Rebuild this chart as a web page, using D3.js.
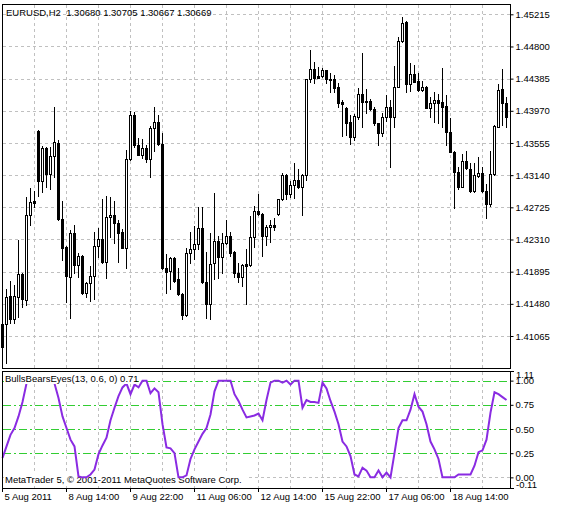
<!DOCTYPE html>
<html><head><meta charset="utf-8">
<script src="https://cdn.jsdelivr.net/npm/d3@7"></script>
<style>html,body{margin:0;padding:0;background:#fff;} svg{display:block;} text{font-family:"Liberation Sans",Arial,sans-serif;font-size:9.5px;fill:#000;white-space:pre;}</style>
</head><body><svg id="c" width="563" height="509"></svg>
<script>
const title = "EURUSD,H2  1.30680 1.30705 1.30667 1.30669";
const indName = "BullsBearsEyes(13, 0.6, 0) 0.71";
const copyright = "MetaTrader 5, \u00A9 2001-2011 MetaQuotes Software Corp.";
const opens = [1.41220,1.41216,1.41577,1.41280,1.41572,1.41861,1.41529,1.42622,1.42806,1.43709,1.43068,1.43490,1.43158,1.43383,1.43554,1.42570,1.42209,1.41830,1.42393,1.41984,1.42097,1.41623,1.41744,1.41835,1.42226,1.42316,1.42023,1.42596,1.42626,1.42518,1.42406,1.42204,1.43344,1.43912,1.43532,1.43403,1.43486,1.43352,1.43744,1.43825,1.43541,1.41938,1.41907,1.42067,1.41796,1.41606,1.41332,1.42131,1.42183,1.42248,1.42454,1.41765,1.41474,1.42002,1.42290,1.42088,1.42260,1.42355,1.42152,1.41873,1.41830,1.41990,1.41981,1.42338,1.42677,1.42638,1.42359,1.42467,1.42493,1.42638,1.42828,1.43142,1.42893,1.43009,1.43077,1.42991,1.43142,1.44380,1.44505,1.44419,1.44419,1.44496,1.44380,1.44380,1.44273,1.44087,1.44002,1.43821,1.43636,1.43894,1.44183,1.44096,1.44096,1.43989,1.43808,1.43679,1.43886,1.44023,1.43886,1.44281,1.44874,1.45115,1.44312,1.44441,1.44358,1.44238,1.44281,1.44010,1.44066,1.44109,1.44079,1.44032,1.43700,1.43442,1.43184,1.42991,1.43326,1.43215,1.42939,1.43133,1.43163,1.42939,1.42764,1.43151,1.43765,1.44247,1.44066];
const highs = [1.41258,1.41667,1.41778,1.41723,1.42303,1.41877,1.42854,1.42974,1.42935,1.43722,1.43516,1.43499,1.43503,1.44019,1.43593,1.42806,1.42226,1.42432,1.42493,1.42139,1.42109,1.41761,1.41972,1.42410,1.42462,1.42828,1.42871,1.42862,1.42802,1.42561,1.42445,1.43464,1.43971,1.43950,1.43619,1.43602,1.43525,1.43774,1.44019,1.43916,1.43683,1.42122,1.42088,1.42088,1.41938,1.41619,1.42196,1.42410,1.42484,1.42733,1.42733,1.42144,1.42389,1.42913,1.42355,1.42389,1.42561,1.42410,1.42161,1.42002,1.41993,1.42183,1.42613,1.42742,1.42896,1.42655,1.42497,1.42561,1.42583,1.42832,1.43163,1.43154,1.43068,1.43292,1.43219,1.43154,1.44386,1.44754,1.44595,1.44531,1.44522,1.44502,1.44453,1.44432,1.44332,1.44109,1.44023,1.43916,1.43929,1.44260,1.44719,1.44251,1.44118,1.44023,1.43819,1.43945,1.44174,1.44109,1.44548,1.44918,1.45184,1.45128,1.44582,1.44561,1.44453,1.44358,1.44290,1.44144,1.44208,1.44186,1.44518,1.44174,1.43873,1.43451,1.43249,1.43412,1.43455,1.43292,1.43292,1.43378,1.43249,1.43026,1.43455,1.43787,1.44315,1.44509,1.44152];
const lows = [1.40910,1.40720,1.41236,1.41228,1.41314,1.41443,1.41461,1.42500,1.42725,1.42875,1.42922,1.42985,1.42961,1.43116,1.42561,1.42045,1.41503,1.41293,1.41873,1.41830,1.41613,1.41572,1.41512,1.41538,1.42088,1.42013,1.41817,1.42346,1.42268,1.42023,1.42200,1.41946,1.43335,1.43507,1.43400,1.43357,1.43313,1.43112,1.43447,1.43535,1.41935,1.41615,1.41667,1.41765,1.41594,1.41280,1.41323,1.42002,1.42054,1.42183,1.41752,1.41301,1.41280,1.41796,1.41809,1.41873,1.42258,1.42097,1.41830,1.41765,1.41710,1.41478,1.41974,1.42217,1.42632,1.42101,1.42239,1.42281,1.42432,1.42632,1.42825,1.42828,1.42862,1.42841,1.42978,1.42626,1.43077,1.44337,1.44324,1.44389,1.44410,1.44324,1.44216,1.44216,1.44023,1.43645,1.43658,1.43538,1.43593,1.43860,1.43765,1.43937,1.43980,1.43787,1.43529,1.43645,1.43842,1.43249,1.43765,1.44277,1.44861,1.44216,1.44225,1.44341,1.44225,1.44225,1.44002,1.43894,1.43829,1.43808,1.43757,1.43529,1.43438,1.42712,1.42957,1.42987,1.43219,1.42926,1.42929,1.43120,1.42929,1.42583,1.42742,1.43148,1.43757,1.43787,1.43757];
const closes = [1.40927,1.41572,1.41280,1.41577,1.41861,1.41538,1.42622,1.42789,1.42784,1.43068,1.43490,1.43158,1.43383,1.43563,1.42570,1.42204,1.41843,1.42393,1.41984,1.42093,1.41623,1.41744,1.41835,1.42226,1.42316,1.42019,1.42596,1.42626,1.42518,1.42397,1.42204,1.43344,1.43912,1.43532,1.43403,1.43486,1.43352,1.43744,1.43825,1.43541,1.41938,1.41890,1.42067,1.41778,1.41606,1.41332,1.42131,1.42183,1.42248,1.42454,1.41765,1.41474,1.41990,1.42290,1.42088,1.42260,1.42355,1.42139,1.41873,1.41830,1.41981,1.41971,1.42338,1.42677,1.42638,1.42359,1.42467,1.42493,1.42475,1.42828,1.43142,1.42893,1.43009,1.43077,1.42991,1.43142,1.44380,1.44505,1.44397,1.44397,1.44496,1.44380,1.44367,1.44268,1.44077,1.44054,1.43816,1.43636,1.43903,1.44183,1.44087,1.44087,1.43989,1.43808,1.43679,1.43886,1.44023,1.43886,1.44281,1.44874,1.45106,1.44315,1.44441,1.44345,1.44238,1.44273,1.44010,1.44066,1.44109,1.44074,1.44023,1.43700,1.43442,1.43184,1.42991,1.43326,1.43228,1.42939,1.43138,1.43163,1.42939,1.42764,1.43151,1.43774,1.44238,1.44074,1.43886];
const bbe = [0.20,0.32,0.44,0.51,0.63,0.78,0.97,1,1,1,1,1,1,0.97,0.82,0.63,0.51,0.39,0.32,0.01,0,0,0.03,0.08,0.24,0.33,0.41,0.59,0.72,0.84,0.93,0.97,0.86,0.96,0.93,1,1,0.87,0.92,0.88,0.55,0.31,0.30,0.25,0,0,0.02,0.19,0.29,0.37,0.45,0.51,0.65,0.89,1,1,1,1,0.86,0.79,0.70,0.62,0.63,0.64,0.66,0.59,0.80,0.98,1,1,0.98,1,0.96,1,1,0.72,0.80,0.78,0.78,0.77,0.98,0.92,0.79,0.68,0.55,0.37,0.32,0.22,0.03,0.01,0.10,0.07,0,0,0.07,0,0.05,0,0.25,0.51,0.59,0.59,0.70,0.86,0.73,0.68,0.55,0.37,0.29,0.19,0,0,0,0,0.03,0.03,0.03,0.03,0.12,0.26,0.28,0.39,0.67,0.88,0.86,0.83,0.80];
const priceTicks = [1.45215,1.44800,1.44385,1.43970,1.43555,1.43140,1.42725,1.42310,1.41895,1.41480,1.41065];
const indTicks = [1.00,0.75,0.50,0.25,0.00];
const indLevels = [1.00,0.75,0.50,0.25];
const timeTickBars = [0,16,32,48,64,80,96,112];
const timeTickLabels = ["5 Aug 2011","8 Aug 14:00","9 Aug 22:00","11 Aug 06:00","12 Aug 14:00","15 Aug 22:00","17 Aug 06:00","18 Aug 14:00"];

const svg = d3.select("#c");
const n = opens.length;
const L = 2, R = 510, T = 4, MB = 368, IT = 371, IB = 488;
const x = d3.scaleLinear().domain([0, n-1]).range([2.5, 2.5 + 4*(n-1)]);
const y = d3.scaleLinear().domain([1.41065, 1.45215]).range([336, 14.3]);
const yi = d3.scaleLinear().domain([-0.11, 1.11]).range([IB, IT - 1]);
const gridCol = "#c0c0c0";
const px = v => Math.round(v) + 0.5;

// vertical grid
const vBars = d3.range(8, n, 8);
[[T+1, MB], [IT+1, IB]].forEach(([a,b]) => {
  svg.append("g").selectAll("line").data(vBars).join("line")
    .attr("x1", d => x(d)).attr("x2", d => x(d)).attr("y1", a).attr("y2", b)
    .attr("stroke", gridCol).attr("stroke-dasharray", "3,3");
});
// horizontal grid main
svg.append("g").selectAll("line").data(priceTicks).join("line")
  .attr("x1", L+1).attr("x2", R).attr("y1", d => px(y(d))).attr("y2", d => px(y(d)))
  .attr("stroke", gridCol).attr("stroke-dasharray", "3,3");
// indicator 0 grid
svg.append("line").attr("x1", L+1).attr("x2", R).attr("y1", px(yi(0))).attr("y2", px(yi(0)))
  .attr("stroke", gridCol).attr("stroke-dasharray", "3,3");
// indicator levels
svg.append("g").selectAll("line").data(indLevels).join("line")
  .attr("x1", L+1).attr("x2", R).attr("y1", d => px(yi(d))).attr("y2", d => px(yi(d)))
  .attr("stroke", "#32cd32").attr("stroke-dasharray", "8,3,2,3");

// candles
const idx = d3.range(n);
const cg = svg.append("g");
cg.selectAll("line").data(idx).join("line")
  .attr("x1", i => x(i)).attr("x2", i => x(i))
  .attr("y1", i => Math.round(y(highs[i]))).attr("y2", i => Math.round(y(lows[i])) + 1)
  .attr("stroke", "#000");
cg.selectAll("rect").data(idx).join("rect")
  .attr("x", i => x(i) - 1).attr("width", 2)
  .attr("y", i => px(y(Math.max(opens[i], closes[i]))))
  .attr("height", i => Math.max(0, Math.round(y(Math.min(opens[i], closes[i]))) - Math.round(y(Math.max(opens[i], closes[i])))))
  .attr("fill", i => closes[i] >= opens[i] ? "#fff" : "#000")
  .attr("stroke", "#000");

// copyright label (under line)
svg.append("rect").attr("x", 4).attr("y", 473).attr("width", 243).attr("height", 12).attr("fill", "#fff");
svg.append("text").attr("x", 5).attr("y", 483).text(copyright);

// indicator line
svg.append("path").datum(bbe)
  .attr("d", d3.line().x((d,i) => x(i)).y(d => yi(d)))
  .attr("fill", "none").attr("stroke", "#8a2be2").attr("stroke-width", 2);

// indicator label
svg.append("rect").attr("x", 4).attr("y", 372).attr("width", 132).attr("height", 12).attr("fill", "#fff");
svg.append("text").attr("x", 5).attr("y", 382).text(indName);

// title
svg.append("text").attr("x", 6).attr("y", 16).text(title);

// frames
svg.append("rect").attr("x", L+0.5).attr("y", T+0.5).attr("width", R-L).attr("height", MB-T).attr("fill","none").attr("stroke","#000");
svg.append("rect").attr("x", L+0.5).attr("y", IT+0.5).attr("width", R-L).attr("height", IB-IT).attr("fill","none").attr("stroke","#000");

// right price axis
const ya = d3.axisRight(y).tickValues(priceTicks).tickFormat(d3.format(".5f")).tickSize(3).tickPadding(2);
svg.append("g").attr("transform", `translate(${R+0.5},0)`).call(ya)
  .call(g => g.select(".domain").remove())
  .call(g => g.selectAll("text").style("font-family", '"Liberation Sans",Arial,sans-serif').style("font-size","9.5px").attr("fill","#000"));
// indicator axis
const ia = d3.axisRight(yi).tickValues(indTicks).tickFormat(d3.format(".2f")).tickSize(3).tickPadding(2);
svg.append("g").attr("transform", `translate(${R+0.5},0)`).call(ia)
  .call(g => g.select(".domain").remove())
  .call(g => g.selectAll("text").style("font-family", '"Liberation Sans",Arial,sans-serif').style("font-size","9.5px").attr("fill","#000"));
const edge = [{v:1.11, t:"1.11", dy:"0.71em", yy: IT}, {v:-0.11, t:"-0.11", dy:"0", yy: IB}];
svg.append("g").selectAll("text").data(edge).join("text")
  .attr("x", R+6).attr("y", d => d.yy).attr("dy", d => d.dy).text(d => d.t);
svg.append("g").selectAll("line").data(edge).join("line")
  .attr("x1", R).attr("x2", R+4).attr("y1", d => d.yy+0.5).attr("y2", d => d.yy+0.5).attr("stroke","#000");

// time axis
const tg = svg.append("g");
tg.selectAll("line").data(timeTickBars).join("line")
  .attr("x1", d => x(d)).attr("x2", d => x(d)).attr("y1", IB).attr("y2", IB+4).attr("stroke","#000");
tg.selectAll("text").data(timeTickBars).join("text")
  .attr("x", d => x(d) + 2).attr("y", 500).text((d,i) => timeTickLabels[i]);
</script></body></html>
